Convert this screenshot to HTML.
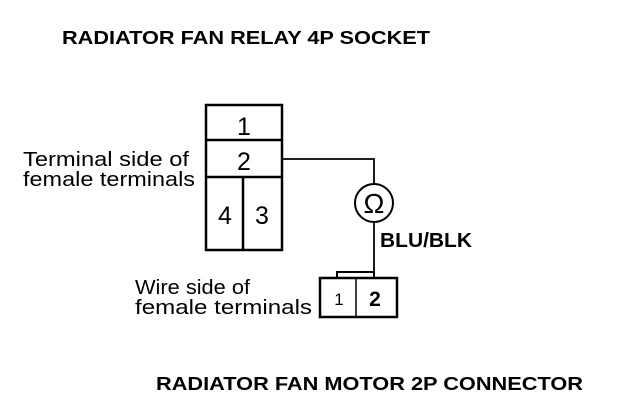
<!DOCTYPE html>
<html><head><style>
body{margin:0;width:640px;height:402px;background:#fff;overflow:hidden}
svg{display:block}
text{font-family:"Liberation Sans",Arial,sans-serif;fill:#000}
</style></head><body>
<svg width="640" height="402" viewBox="0 0 640 402">
<text x="62" y="44" font-size="18" font-weight="bold" textLength="368" lengthAdjust="spacingAndGlyphs">RADIATOR FAN RELAY 4P SOCKET</text>
<g stroke="#000" stroke-width="2.5" fill="none">
<rect x="206" y="105" width="76" height="145"/>
<line x1="206" y1="140" x2="282" y2="140"/>
<line x1="206" y1="177" x2="282" y2="177"/>
<line x1="243" y1="177" x2="243" y2="250"/>
<polyline points="282,159 374,159 374,184" stroke-width="1.8"/>
<circle cx="374" cy="203" r="19" stroke-width="2"/>
<line x1="374" y1="222" x2="374" y2="272" stroke-width="1.8"/>
<polyline points="337,278 337,272 374,272 374,278" stroke-width="2"/>
<rect x="320" y="278" width="77" height="39"/>
<line x1="356" y1="278" x2="356" y2="317" stroke-width="1.5"/>
</g>
<text x="244" y="135" font-size="25" text-anchor="middle">1</text>
<text x="244" y="170" font-size="25" text-anchor="middle">2</text>
<text x="225" y="224" font-size="25" text-anchor="middle">4</text>
<text x="262" y="224" font-size="25" text-anchor="middle">3</text>
<text x="374" y="213" font-size="28" text-anchor="middle">Ω</text>
<text x="380" y="247" font-size="20" font-weight="bold" textLength="92" lengthAdjust="spacingAndGlyphs">BLU/BLK</text>
<text x="339" y="305" font-size="17" text-anchor="middle">1</text>
<text x="375" y="306" font-size="21" font-weight="bold" text-anchor="middle">2</text>
<text x="23" y="166" font-size="20" textLength="166" lengthAdjust="spacingAndGlyphs">Terminal side of</text>
<text x="23" y="186" font-size="20" textLength="172" lengthAdjust="spacingAndGlyphs">female terminals</text>
<text x="135" y="294" font-size="20" textLength="115" lengthAdjust="spacingAndGlyphs">Wire side of</text>
<text x="135" y="314" font-size="20" textLength="177" lengthAdjust="spacingAndGlyphs">female terminals</text>
<text x="156" y="390" font-size="18" font-weight="bold" textLength="427" lengthAdjust="spacingAndGlyphs">RADIATOR FAN MOTOR 2P CONNECTOR</text>
</svg>
</body></html>
